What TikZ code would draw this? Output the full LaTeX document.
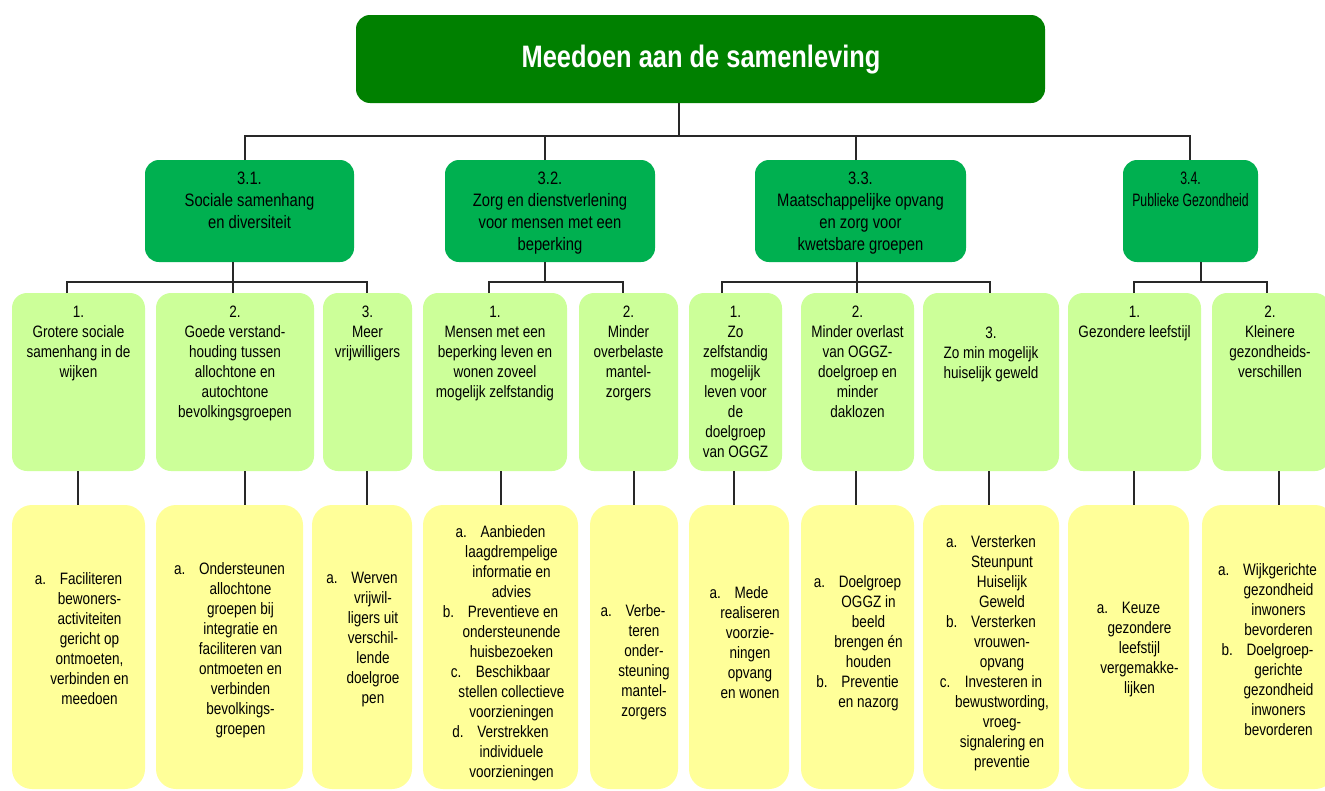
\documentclass[tikz,border=0pt]{standalone}
\usepackage{fontspec}
\setmainfont{Liberation Sans}[FakeStretch=0.82]
\definecolor{topgreen}{RGB}{0,128,0}
\definecolor{midgreen}{RGB}{0,176,80}
\definecolor{lightgreen}{RGB}{204,255,153}
\definecolor{lightyellow}{RGB}{255,255,153}
\definecolor{linecol}{RGB}{40,40,40}
\newcommand\fbody{\fontsize{16.5}{20}\selectfont}
\newcommand\fmid{\fontsize{18}{22}\selectfont}
\newcommand\ftitle{\fontsize{31}{36}\selectfont\bfseries}
\newcommand\myitem[2]{\makebox[25pt][l]{#1}#2}
\newcommand\myind{\hspace*{22pt}}
\newcommand\mybox[6]{\node[#1, minimum width={(#5)-(#3)}, minimum height={(#6)-(#4)}] (#2) at ({((#3)+(#5))/2},{((#4)+(#6))/2}) {};}
\tikzset{
  boxbase/.style={draw=none, inner sep=0pt, outer sep=0pt, rectangle},
  topbox/.style={boxbase, fill=topgreen, rounded corners=14pt},
  lvtwo/.style={boxbase, fill=midgreen, rounded corners=14pt},
  lvthree/.style={boxbase, fill=lightgreen, rounded corners=15pt},
  lvfour/.style={boxbase, fill=lightyellow, rounded corners=20pt},
  titletext/.style={inner sep=0pt, text=white, font=\ftitle},
  midtext/.style={inner sep=0pt, align=center, font=\fmid, anchor=north},
  bodytext/.style={inner sep=0pt, align=center, font=\fbody, anchor=north},
  itemtext/.style={inner sep=0pt, align=center, font=\fbody},
  conn/.style={draw=linecol, line width=1.3pt}
}
\begin{document}
\begin{tikzpicture}[x=1pt,y=-1pt]
\clip (0,0) rectangle (1325,790);
\fill[white] (0,0) rectangle (1325,790);
% boxes
\mybox{topbox}{top}{356}{15}{1045}{103}
\mybox{lvtwo}{c31}{145}{160}{354}{262}
\mybox{lvtwo}{c32}{445}{160}{655}{262}
\mybox{lvtwo}{c33}{755}{160}{966}{262}
\mybox{lvtwo}{c34}{1123}{160}{1258}{262}
\mybox{lvthree}{a11}{12}{293}{145}{471}
\mybox{lvthree}{a12}{156}{293}{314}{471}
\mybox{lvthree}{a13}{323}{293}{412}{471}
\mybox{lvthree}{a21}{423}{293}{567}{471}
\mybox{lvthree}{a22}{579}{293}{678}{471}
\mybox{lvthree}{a31}{689}{293}{782}{471}
\mybox{lvthree}{a32}{801}{293}{914}{471}
\mybox{lvthree}{a33}{923}{293}{1059}{471}
\mybox{lvthree}{a41}{1068}{293}{1201}{471}
\mybox{lvthree}{a42}{1212}{293}{1330}{471}
\mybox{lvfour}{b11}{12}{505}{145}{789}
\mybox{lvfour}{b12}{156}{505}{303}{789}
\mybox{lvfour}{b13}{312}{505}{412}{789}
\mybox{lvfour}{b21}{423}{505}{578}{789}
\mybox{lvfour}{b22}{590}{505}{678}{789}
\mybox{lvfour}{b31}{689}{505}{789}{789}
\mybox{lvfour}{b32}{801}{505}{914}{789}
\mybox{lvfour}{b33}{923}{505}{1059}{789}
\mybox{lvfour}{b41}{1068}{505}{1189}{789}
\mybox{lvfour}{b42}{1202}{505}{1335}{789}
% connectors: top -> level 2
\draw[conn] ([xshift=-21.5pt]top.south) -- ++(0,33);
\draw[conn] ([xshift=-4.5pt]c31.north) -- ++(0,-24) -| ([xshift=-0.5pt]c34.north);
\draw[conn] ([xshift=-5pt]c32.north) -- ++(0,-24);
\draw[conn] ([xshift=-4.5pt]c33.north) -- ++(0,-24);
% level 2 -> level 3
\draw[conn] ([xshift=-16.5pt]c31.south) -- ++(0,20);
\draw[conn] ([xshift=-11.5pt]a11.north) -- ++(0,-11) -| ([xshift=-0.5pt]a13.north);
\draw[conn] ([xshift=-2pt]a12.north) -- ++(0,-11);
\draw[conn] ([xshift=-5pt]c32.south) -- ++(0,20);
\draw[conn] ([xshift=-6pt]a21.north) -- ++(0,-11) -| ([xshift=-5.5pt]a22.north);
\draw[conn] ([xshift=-3.5pt]c33.south) -- ++(0,20);
\draw[conn] ([xshift=-13.5pt]a31.north) -- ++(0,-11) -| ([xshift=-1pt]a33.north);
\draw[conn] ([xshift=-0.5pt]a32.north) -- ++(0,-11);
\draw[conn] ([xshift=10.5pt]c34.south) -- ++(0,20);
\draw[conn] ([xshift=-0.5pt]a41.north) -- ++(0,-11) -| ([xshift=-4pt]a42.north);
% level 3 -> level 4
\draw[conn] ([xshift=-0.5pt]a11.south) -- ([xshift=-0.5pt]a11.south |- b11.north);
\draw[conn] ([xshift=10pt]a12.south) -- ([xshift=10pt]a12.south |- b12.north);
\draw[conn] ([xshift=-0.5pt]a13.south) -- ([xshift=-0.5pt]a13.south |- b13.north);
\draw[conn] ([xshift=6pt]a21.south) -- ([xshift=6pt]a21.south |- b21.north);
\draw[conn] ([xshift=5.5pt]a22.south) -- ([xshift=5.5pt]a22.south |- b22.north);
\draw[conn] ([xshift=-1.5pt]a31.south) -- ([xshift=-1.5pt]a31.south |- b31.north);
\draw[conn] ([xshift=-1.5pt]a32.south) -- ([xshift=-1.5pt]a32.south |- b32.north);
\draw[conn] ([xshift=-2pt]a33.south) -- ([xshift=-2pt]a33.south |- b33.north);
\draw[conn] ([xshift=-0.5pt]a41.south) -- ([xshift=-0.5pt]a41.south |- b41.north);
\draw[conn] ([xshift=8pt]a42.south) -- ([xshift=8pt]a42.south |- b42.north);
% title
\node[titletext] (ttl) at (701,60) {Meedoen aan de samenleving};
% level 2 texts
\node[midtext] (t31) at (249.5,171.5) {3.1.\\Sociale samenhang\\en diversiteit};
\node[midtext] (t32) at (550,171.5) {3.2.\\Zorg en dienstverlening\\voor mensen met een\\beperking};
\node[midtext] (t33) at (860.5,171.5) {3.3.\\Maatschappelijke opvang\\en zorg voor\\kwetsbare groepen};
\node[midtext, xscale=0.83, transform shape] (t34) at (1190.5,171.5) {3.4.\\Publieke Gezondheid};
% level 3 texts
\node[bodytext] (s11) at (78.5,306) {1.\\Grotere sociale\\samenhang in de\\wijken};
\node[bodytext] (s12) at (235,306) {2.\\Goede verstand-\\houding tussen\\allochtone en\\autochtone\\bevolkingsgroepen};
\node[bodytext] (s13) at (367.5,306) {3.\\Meer\\vrijwilligers};
\node[bodytext] (s21) at (495,306) {1.\\Mensen met een\\beperking leven en\\wonen zoveel\\mogelijk zelfstandig};
\node[bodytext] (s22) at (628.5,306) {2.\\Minder\\overbelaste\\mantel-\\zorgers};
\node[bodytext] (s31) at (735.5,306) {1.\\Zo\\zelfstandig\\mogelijk\\leven voor\\de\\doelgroep\\van OGGZ};
\node[bodytext] (s32) at (857.5,306) {2.\\Minder overlast\\van OGGZ-\\doelgroep en\\minder\\daklozen};
\node[bodytext] (s33) at (991,327) {3.\\Zo min mogelijk\\huiselijk geweld};
\node[bodytext] (s41) at (1134.5,306) {1.\\Gezondere leefstijl};
\node[bodytext] (s42) at (1270,306) {2.\\Kleinere\\gezondheids-\\verschillen};
% level 4 texts
\node[itemtext] (u11) at (78.5,639) {\myitem{a.}{Faciliteren}\\\myind bewoners-\\\myind activiteiten\\\myind gericht op\\\myind ontmoeten,\\\myind verbinden en\\\myind meedoen};
\node[itemtext] (u12) at (229.5,650) {\myitem{a.}{Ondersteunen}\\\myind allochtone\\\myind groepen bij\\\myind integratie en\\\myind faciliteren van\\\myind ontmoeten en\\\myind verbinden\\\myind bevolkings-\\\myind groepen};
\node[itemtext] (u13) at (362,639.5) {\myitem{a.}{Werven}\\\myind vrijwil-\\\myind ligers uit\\\myind verschil-\\\myind lende\\\myind doelgroe\\\myind pen};
\node[itemtext] (u21) at (500.5,653) {\myitem{a.}{Aanbieden}\\\myind laagdrempelige\\\myind informatie en\\\myind advies\\\myitem{b.}{Preventieve en}\\\myind ondersteunende\\\myind huisbezoeken\\\myitem{c.}{Beschikbaar}\\\myind stellen collectieve\\\myind voorzieningen\\\myitem{d.}{Verstrekken}\\\myind individuele\\\myind voorzieningen};
\node[itemtext] (u22) at (633,662) {\myitem{a.}{Verbe-}\\\myind teren\\\myind onder-\\\myind steuning\\\myind mantel-\\\myind zorgers};
\node[itemtext] (u31) at (739,643) {\myitem{a.}{Mede}\\\myind realiseren\\\myind voorzie-\\\myind ningen\\\myind opvang\\\myind en wonen};
\node[itemtext] (u32) at (857.5,643) {\myitem{a.}{Doelgroep}\\\myind OGGZ in\\\myind beeld\\\myind brengen én\\\myind houden\\\myitem{b.}{Preventie}\\\myind en nazorg};
\node[itemtext] (u33) at (991,653) {\myitem{a.}{Versterken}\\\myind Steunpunt\\\myind Huiselijk\\\myind Geweld\\\myitem{b.}{Versterken}\\\myind vrouwen-\\\myind opvang\\\myitem{c.}{Investeren in}\\\myind bewustwording,\\\myind vroeg-\\\myind signalering en\\\myind preventie};
\node[itemtext] (u41) at (1128.5,650) {\myitem{a.}{Keuze}\\\myind gezondere\\\myind leefstijl\\\myind vergemakke-\\\myind lijken};
\node[itemtext] (u42) at (1267.5,650) {\myitem{a.}{Wijkgerichte}\\\myind gezondheid\\\myind inwoners\\\myind bevorderen\\\myitem{b.}{Doelgroep-}\\\myind gerichte\\\myind gezondheid\\\myind inwoners\\\myind bevorderen};
\end{tikzpicture}
\end{document}
